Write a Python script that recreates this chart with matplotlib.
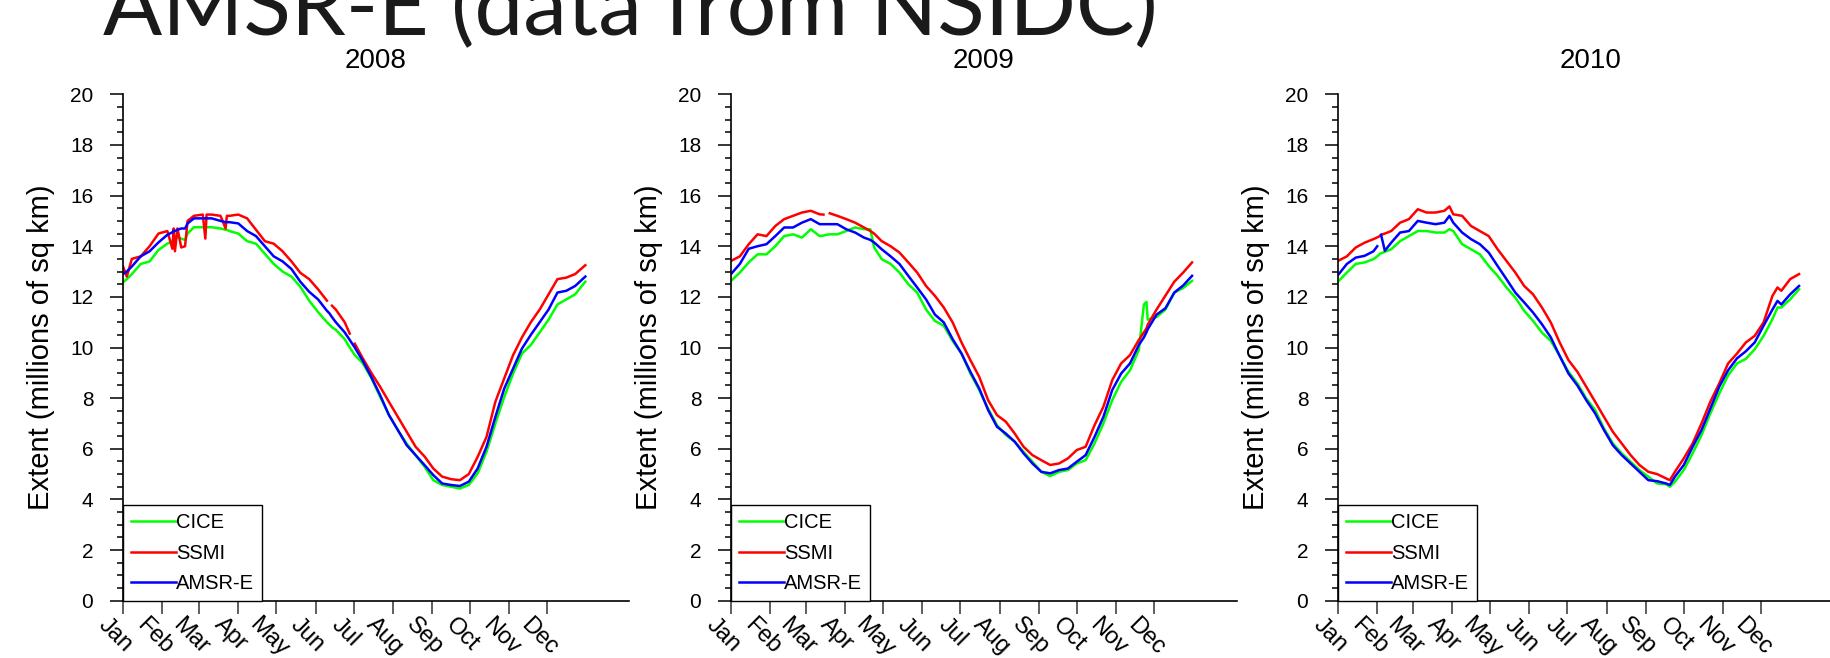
import numpy as np
import matplotlib
matplotlib.use('Agg')
import matplotlib.pyplot as plt
from matplotlib.ticker import MultipleLocator
from matplotlib.transforms import ScaledTranslation

plt.rcParams['font.family'] = ['Liberation Sans', 'DejaVu Sans']

nan = np.nan

MONTHS = ['Jan', 'Feb', 'Mar', 'Apr', 'May', 'Jun', 'Jul', 'Aug', 'Sep', 'Oct', 'Nov', 'Dec']
MONTH_START_LEAP = [1, 32, 61, 92, 122, 153, 183, 214, 245, 275, 306, 336]
MONTH_START_NORM = [1, 32, 60, 91, 121, 152, 182, 213, 244, 274, 305, 335]

# ---------------- 2008 ----------------
DAYS_2008 = [1, 4, 8, 15, 22, 29, 36, 40, 41, 42, 44, 47, 50, 52, 57, 64, 66, 67, 71, 78,
             82, 83, 85, 92, 99, 106, 113, 120, 127, 134, 141, 148, 155, 162, 164, 166, 169,
             176, 180, 182, 184, 190, 197, 204, 211, 218, 225, 232, 239, 246, 253, 260, 267,
             274, 281, 288, 295, 302, 309, 316, 323, 330, 337, 344, 351, 358, 366]
SSMI_2008 = [13.2, 12.8, 13.5, 13.6, 14.0, 14.5, 14.6, 13.9, 14.7, 13.8, 14.7, 13.95, 14.0, 15.0,
             15.2, 15.25, 14.3, 15.25, 15.25, 15.2, 14.7, 15.2, 15.2, 15.25, 15.1, 14.65, 14.2,
             14.1, 13.8, 13.4, 12.95, 12.7, 12.3, 11.85, nan, 11.65, 11.5, 11.0, 10.55, nan,
             10.15, 9.6, 9.0, 8.45, 7.85, 7.26, 6.67, 6.08, 5.7, 5.22, 4.9, 4.8, 4.76, 5.0, 5.68,
             6.47, 7.86, 8.78, 9.7, 10.4, 11.0, 11.5, 12.1, 12.7, 12.76, 12.9, 13.25]
AMSR_2008 = [12.9, 13.0, 13.2, 13.6, 13.8, 14.15, 14.45, 14.55, 14.6, 14.6, 14.65, 14.7, 14.7,
             14.9, 15.1, 15.1, 15.1, 15.1, 15.1, 15.0, 14.95, 14.95, 14.95, 14.9, 14.6, 14.4,
             14.0, 13.6, 13.4, 13.1, 12.6, 12.2, 11.9, 11.45, 11.35, 11.2, 11.0, 10.6, 10.3,
             10.15, 10.0, 9.5, 8.84, 8.12, 7.33, 6.74, 6.14, 5.75, 5.36, 4.96, 4.63, 4.57, 4.53,
             4.7, 5.22, 6.08, 7.26, 8.38, 9.17, 9.96, 10.5, 11.0, 11.5, 12.17, 12.24, 12.43, 12.8]
CICE_2008 = [12.57, 12.7, 12.9, 13.3, 13.4, 13.85, 14.1, 14.2, 14.25, 14.3, 14.35, 14.3, 14.25,
             14.5, 14.75, 14.75, 14.75, 14.75, 14.75, 14.7, 14.65, 14.65, 14.6, 14.5, 14.2, 14.1,
             13.7, 13.3, 13.0, 12.8, 12.4, 11.85, 11.4, 11.0, 10.9, 10.8, 10.7, 10.33, 10.0,
             9.85, 9.7, 9.4, 8.8, 8.05, 7.33, 6.74, 6.2, 5.75, 5.3, 4.76, 4.57, 4.5, 4.43, 4.57,
             5.03, 5.88, 7.0, 8.05, 8.97, 9.76, 10.1, 10.6, 11.1, 11.7, 11.9, 12.1, 12.6]

# ---------------- 2009 ----------------
DAYS_2009 = [1, 8, 15, 22, 29, 36, 43, 50, 57, 64, 71, 74, 76, 79, 85, 92, 99, 106, 111, 114,
             120, 127, 134, 141, 148, 155, 162, 169, 176, 183, 190, 197, 204, 211, 218, 225,
             232, 239, 246, 253, 260, 267, 274, 281, 288, 295, 302, 309, 316, 323, 327, 329,
             330, 337, 344, 351, 358, 365]
SSMI_2009 = [13.42, 13.6, 14.08, 14.47, 14.4, 14.8, 15.07, 15.2, 15.33, 15.4, 15.26, 15.25, nan,
             15.3, 15.2, 15.07, 14.93, 14.74, 14.6, 14.5, 14.2, 14.0, 13.75, 13.36, 12.96, 12.43,
             12.04, 11.58, 10.99, 10.2, 9.5, 8.84, 7.92, 7.33, 7.07, 6.6, 6.08, 5.75, 5.55, 5.36,
             5.42, 5.62, 5.95, 6.08, 6.93, 7.66, 8.71, 9.37, 9.7, 10.3, 10.6, 10.75, 10.9, 11.5,
             12.05, 12.6, 12.96, 13.36]
AMSR_2009 = [12.9, 13.3, 13.9, 14.0, 14.08, 14.4, 14.74, 14.74, 14.93, 15.07, 14.87, 14.87,
             14.87, 14.87, 14.87, 14.67, 14.54, 14.34, 14.25, 14.15, 13.88, 13.6, 13.3, 12.83,
             12.37, 11.9, 11.3, 10.99, 10.33, 9.76, 9.04, 8.38, 7.53, 6.87, 6.6, 6.28, 5.82, 5.42,
             5.09, 5.03, 5.16, 5.22, 5.49, 5.75, 6.47, 7.26, 8.32, 8.97, 9.37, 10.1, 10.4, 10.6,
             10.72, 11.3, 11.55, 12.17, 12.45, 12.83]
CICE_2009 = [12.63, 12.96, 13.36, 13.68, 13.68, 14.0, 14.4, 14.47, 14.34, 14.67, 14.4, 14.42,
             14.45, 14.47, 14.47, 14.6, 14.74, 14.67, 14.67, 13.95, 13.49, 13.3, 12.96, 12.5,
             12.17, 11.5, 11.05, 10.86, 10.26, 9.76, 8.97, 8.32, 7.59, 6.93, 6.54, 6.28, 5.88,
             5.49, 5.09, 4.92, 5.09, 5.16, 5.42, 5.55, 6.21, 7.0, 7.92, 8.64, 9.1, 9.9, 11.7,
             11.8, 11.1, 11.2, 11.5, 12.17, 12.35, 12.63]

# ---------------- 2010 ----------------
DAYS_2010 = [1, 8, 15, 22, 29, 32, 34, 35, 38, 43, 50, 57, 64, 71, 78, 85, 89, 92, 99, 106,
             113, 120, 127, 134, 141, 148, 155, 162, 169, 176, 183, 190, 197, 204, 211, 218,
             225, 232, 239, 246, 253, 260, 263, 267, 274, 281, 288, 295, 302, 309, 316, 323,
             330, 337, 344, 348, 351, 358, 365]
SSMI_2010 = [13.42, 13.6, 13.95, 14.14, 14.28, 14.35, 14.4, 14.45, 14.5, 14.6, 14.93, 15.07,
             15.46, 15.33, 15.33, 15.4, 15.57, 15.26, 15.2, 14.8, 14.6, 14.4, 13.88, 13.42,
             12.96, 12.43, 12.1, 11.58, 10.99, 10.2, 9.5, 9.04, 8.45, 7.86, 7.26, 6.67, 6.21,
             5.75, 5.36, 5.09, 5.0, 4.83, 4.76, 5.09, 5.62, 6.21, 7.0, 7.86, 8.58, 9.37, 9.76,
             10.2, 10.46, 10.99, 12.04, 12.37, 12.24, 12.7, 12.9]
AMSR_2010 = [12.86, 13.3, 13.55, 13.62, 13.8, 14.0, nan, 14.45, 13.82, 14.14, 14.54, 14.6,
             15.0, 14.93, 14.87, 14.93, 15.2, 14.93, 14.54, 14.28, 14.08, 13.75, 13.22, 12.7,
             12.17, 11.78, 11.38, 10.92, 10.4, 9.67, 8.97, 8.5, 7.92, 7.4, 6.74, 6.14, 5.75,
             5.42, 5.09, 4.76, 4.72, 4.63, 4.57, 4.9, 5.36, 6.08, 6.74, 7.59, 8.45, 9.1, 9.57,
             9.85, 10.2, 10.86, 11.5, 11.84, 11.7, 12.1, 12.43]
CICE_2010 = [12.6, 12.96, 13.3, 13.36, 13.49, 13.6, 13.7, 13.72, 13.78, 13.88, 14.2, 14.4,
             14.6, 14.6, 14.54, 14.54, 14.67, 14.6, 14.08, 13.88, 13.68, 13.22, 12.83, 12.37,
             11.97, 11.45, 11.05, 10.59, 10.26, 9.67, 9.04, 8.58, 7.99, 7.53, 6.8, 6.21, 5.82,
             5.49, 5.16, 4.9, 4.63, 4.6, 4.5, 4.7, 5.16, 5.82, 6.54, 7.4, 8.18, 8.9, 9.37, 9.55,
             9.93, 10.46, 11.12, 11.58, 11.58, 11.9, 12.3]

PANELS = [
    ('2008', DAYS_2008, CICE_2008, SSMI_2008, AMSR_2008, MONTH_START_LEAP),
    ('2009', DAYS_2009, CICE_2009, SSMI_2009, AMSR_2009, MONTH_START_NORM),
    ('2010', DAYS_2010, CICE_2010, SSMI_2010, AMSR_2010, MONTH_START_NORM),
]
SERIES_NAMES = ['CICE', 'SSMI', 'AMSR-E']
SERIES_COLORS = ['#00ff00', '#ff0000', '#0000ff']

W, H = 1830, 658
fig = plt.figure(figsize=(W / 100, H / 100), dpi=100)

axes_left_px = [123, 731, 1338]
ax_w_px = 506
ax_top_px, ax_bot_px = 94.3, 600.7

for (year, days, cice, ssmi, amsr, mstart), lpx in zip(PANELS, axes_left_px):
    ax = fig.add_axes([lpx / W, 1 - ax_bot_px / H, ax_w_px / W, (ax_bot_px - ax_top_px) / H])
    for vals, name, col in zip([cice, ssmi, amsr], SERIES_NAMES, SERIES_COLORS):
        ax.plot(days, vals, color=col, lw=1.8, label=name, solid_joinstyle='round')
    ax.set_xlim(1, 400.5)
    ax.set_ylim(0, 20)
    for s in ['top', 'right']:
        ax.spines[s].set_visible(False)
    for s in ['left', 'bottom']:
        ax.spines[s].set_linewidth(1.2)
        ax.spines[s].set_color('black')
    ax.yaxis.set_major_locator(MultipleLocator(2))
    ax.yaxis.set_minor_locator(MultipleLocator(0.5))
    ax.tick_params(axis='y', which='major', direction='out', length=9.4, width=1.1,
                   labelsize=15, pad=12)
    ax.tick_params(axis='y', which='minor', direction='out', length=4.3, width=1.1)
    ax.set_xticks(mstart)
    ax.set_xticklabels(MONTHS, rotation=-45, ha='center', fontsize=17)
    ax.tick_params(axis='x', which='major', direction='out', length=9.4, width=1.1,
                   color='#333333', pad=0)
    off = ScaledTranslation(-8 / 100, 0, fig.dpi_scale_trans)
    for lab in ax.get_xticklabels():
        lab.set_transform(lab.get_transform() + off)
    ax.set_ylabel('Extent (millions of sq km)', fontsize=21, labelpad=11)
    ax.set_title(year, fontsize=20, pad=19)
    leg = ax.legend(loc='lower left', bbox_to_anchor=(0, 0), borderaxespad=0, borderpad=0.4,
                    handlelength=2.24, handletextpad=0, labelspacing=0.55,
                    fontsize=14.5, frameon=True, fancybox=False, edgecolor='black',
                    framealpha=1)
    leg.get_frame().set_linewidth(1.0)

fig.text(103 / W, 1 - 35 / H, 'AMSR-E (data from NSIDC)', fontsize=63, family='Lato',
         color='#1a1a1a', ha='left', va='baseline')

fig.savefig('out.png', dpi=100)
